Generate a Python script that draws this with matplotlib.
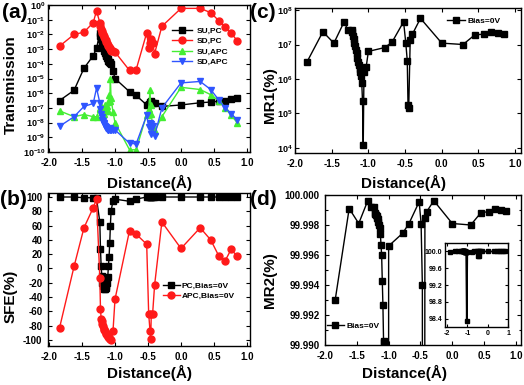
import matplotlib
matplotlib.use('Agg')
import matplotlib.pyplot as plt
import numpy as np
from matplotlib.ticker import MultipleLocator, FormatStrFormatter, NullLocator, LogLocator, LogFormatterMathtext

plt.rcParams['font.family'] = ['Liberation Sans', 'DejaVu Sans']
plt.rcParams['font.weight'] = 'bold'
plt.rcParams['axes.unicode_minus'] = False
plt.rcParams['mathtext.fontset'] = 'custom'
plt.rcParams['mathtext.rm'] = 'Liberation Sans:bold'
plt.rcParams['mathtext.it'] = 'Liberation Sans:bold'
plt.rcParams['mathtext.bf'] = 'Liberation Sans:bold'
plt.rcParams['mathtext.default'] = 'rm'

# distance (Angstrom), shared by all panels
dist = [-1.84, -1.62, -1.47, -1.33, -1.28, -1.23,
        -1.22, -1.21, -1.20, -1.19, -1.18, -1.17, -1.16, -1.15, -1.14, -1.13, -1.12,
        -1.11, -1.10, -1.09, -1.08, -1.07, -1.06,
        -1.03, -1.00, -0.78, -0.68,
        -0.52, -0.49, -0.47, -0.46, -0.45, -0.43, -0.40, -0.29,
        0.00, 0.29, 0.45, 0.57, 0.67, 0.76, 0.85]

# (a) log10 of transmission
log_su_pc = [-6.5, -5.8, -4.3, -3.45, -2.95, -1.9,
             -2.1, -2.3, -2.5, -2.65, -2.8, -2.95, -3.1, -3.25, -3.4, -3.5, -3.6,
             -3.7, -3.8, -3.85, -3.9, -3.95, -4.0,
             -4.5, -5.0, -5.9, -6.15,
             -6.8, -6.75, -6.6, -6.55, -6.6, -6.65, -6.7, -6.9,
             -6.8, -6.65, -6.6, -6.55, -6.5, -6.4, -6.3]
log_sd_pc = [-2.8, -2.0, -1.85, -1.2, -0.4, -1.2,
             -1.45, -1.6, -1.75, -1.9, -2.0, -2.1, -2.2, -2.3, -2.4, -2.5, -2.6,
             -2.7, -2.8, -2.85, -2.9, -3.0, -3.1,
             -3.1, -3.2, -4.45, -4.4,
             -1.9, -2.9, -2.6, -2.45, -2.3, -2.6, -3.3, -1.45,
             -0.23, -0.23, -0.52, -1.06, -1.5, -1.92, -2.42]
log_su_apc = [-7.2, -7.6, -7.45, -7.6, -7.6, -7.1,
              -7.0, -6.9, -7.2, -7.3, -7.1, -7.4, -7.0, -6.8, -7.2, -7.0, -6.9,
              -7.2, -6.6, -6.1, -6.5, -5.0, -6.3,
              -7.3, -8.0, -9.85, -9.85,
              -7.45, -7.1, -5.8, -6.8, -7.4, -8.3, -8.6, -7.6,
              -5.6, -5.75, -6.1, -6.5, -7.0, -7.5, -8.0]
log_sd_apc = [-8.25, -7.6, -6.9, -6.7, -5.65, -6.65,
              -7.1, -7.4, -7.6, -7.8, -7.9, -8.0, -8.1, -8.2, -8.3, -8.4, -8.45,
              -8.5, -8.5, -8.45, -8.5, -8.4, -8.5,
              -8.5, -8.5, -9.4, -9.45,
              -7.5, -8.3, -8.0, -8.1, -8.8, -8.2, -8.9, -7.0,
              -5.3, -5.2, -5.75, -6.45, -7.0, -7.4, -7.8]

# (b) spin filter efficiency (%)
sfe_pc = [100, 100, 99, 99, 98, 65,
          27, 3, -10, -20, -25, -27, -28, -28, -27, -25, -20,
          -12, 3, 16, 35, 60, 80,
          95, 97, 94, 97,
          100, 100, 100, 100, 100, 100, 100, 100,
          100, 100, 100, 100, 100, 100, 100]
sfe_apc = [-83, 3, 57, 85, 97, -13,
           -57, -70, -74, -78, -81, -84, -86, -88, -90, -92, -93,
           -95, -96, -97, -98, -99, -100,
           -87, -43, 53, 48,
           34, -63, -87, -99, -63, -63, -23, 65,
           28, 57, 40, 18, 11, 27, 17]

# (c) log10 of MR1 (%)
log_mr1 = [6.48, 7.37, 7.04, 7.66, 7.42, 7.42,
           7.35, 7.25, 7.15, 7.05, 6.95, 6.85, 6.75, 6.62, 6.5, 6.4, 6.3,
           6.2, 6.1, 5.88, 5.35, 4.08, 6.2,
           6.35, 6.8, 6.91, 7.06,
           7.66, 7.04, 6.53, 5.25, 5.16, 7.13, 7.30, 7.76,
           7.04, 7.0, 7.28, 7.30, 7.35, 7.33, 7.31]

# (d) MR2 (%)
mr2 = [99.9930, 99.9991, 99.9981, 99.9996, 99.9992, 99.9992,
       99.9988, 99.99875, 99.9987, 99.9986, 99.9985, 99.9984, 99.9982, 99.9980, 99.9978, 99.9974, 99.9967,
       99.9960, 99.9943, 99.9927, 99.9903, 99.9902, 99.9901,
       98.35, 99.9966, 99.99745, 99.9981,
       99.99955, 99.9981, 99.9940, 99.88, 99.90, 99.99845, 99.9989, 99.99962,
       99.9981, 99.9980, 99.99882, 99.99889, 99.99907, 99.9990, 99.99896]

W, H = 524, 385
fig = plt.figure(figsize=(W / 100, H / 100), dpi=100)


def px_axes(l, t, r, b):
    return fig.add_axes([l / W, 1 - b / H, (r - l) / W, (b - t) / H])


def style(ax, size=7):
    ax.tick_params(which='both', direction='in', top=True, right=True,
                   labelsize=size, pad=4, width=0.8)
    ax.tick_params(which='major', length=3)
    ax.tick_params(which='minor', length=1.8)
    for s in ax.spines.values():
        s.set_linewidth(1.0)


def leg(ax, x0, y0, hl, tp, ls=0.3):
    ax.legend(loc='upper left', bbox_to_anchor=(x0 / W, 1 - y0 / H), bbox_transform=fig.transFigure,
              frameon=False, fontsize=6, handlelength=hl, handletextpad=tp, labelspacing=ls,
              borderpad=0, borderaxespad=0)


lab = dict(fontsize=11, fontweight='bold')
RED = '#ff1a1a'
GREEN = '#44ee33'
BLUE = '#2f55ff'
x = np.array(dist)

# ---- (a)
ax = px_axes(48, 5, 250, 152)
ax.semilogy(x, 10 ** np.array(log_su_pc), '-s', color='k', ms=4, lw=1, label='SU,PC')
ax.semilogy(x, 10 ** np.array(log_sd_pc), '-o', color=RED, ms=5, lw=1, label='SD,PC')
ax.semilogy(x, 10 ** np.array(log_su_apc), '-^', color=GREEN, ms=5, lw=1, label='SU,APC')
ax.semilogy(x, 10 ** np.array(log_sd_apc), '-v', color=BLUE, ms=5, lw=1, label='SD,APC')
ax.set_xlim(-2.015, 1.045)
ax.set_ylim(1e-10, 1)
ax.yaxis.set_major_locator(LogLocator(base=10, numticks=20))
ax.yaxis.set_major_formatter(LogFormatterMathtext())
ax.yaxis.set_minor_locator(NullLocator())
ax.xaxis.set_major_locator(MultipleLocator(0.5))
ax.xaxis.set_major_formatter(FormatStrFormatter('%.1f'))
style(ax)
ax.tick_params(axis='y', labelsize=6.5, pad=2)
ax.set_ylabel('Transmission', **lab)
ax.yaxis.set_label_coords(-0.149, 0.456)
ax.set_xlabel('Distance(Å)', **lab)
ax.xaxis.set_label_coords(0.5, -0.156)
leg(ax, 172, 27, 2.4, 0.6)
fig.text(2 / W, 1 - 13 / H, '(a)', fontsize=15, fontweight='bold', va='center', ha='left')

# ---- (b)
ax = px_axes(48, 193, 250, 346)
ax.plot(x, sfe_pc, '-s', color='k', ms=4, lw=1, label='PC,Bias=0V')
ax.plot(x, sfe_apc, '-o', color=RED, ms=5, lw=1, label='APC,Bias=0V')
ax.set_xlim(-2.015, 1.045)
ax.set_ylim(-108.4, 105.6)
ax.yaxis.set_major_locator(MultipleLocator(20))
ax.xaxis.set_major_locator(MultipleLocator(0.5))
ax.xaxis.set_major_formatter(FormatStrFormatter('%.1f'))
style(ax)
ax.set_ylabel('SFE(%)', **lab)
ax.yaxis.set_label_coords(-0.149, 0.327)
ax.set_xlabel('Distance(Å)', **lab)
ax.xaxis.set_label_coords(0.5, -0.124)
leg(ax, 163, 282, 2.0, 0.25, 0.25)
fig.text(0 / W, 1 - 200 / H, '(b)', fontsize=15, fontweight='bold', va='center', ha='left')

# ---- (c)
ax = px_axes(295, 8, 521, 153)
ax.semilogy(x, 10 ** np.array(log_mr1), '-s', color='k', ms=4, lw=1, label='Bias=0V')
ax.set_xlim(-2.0, 1.08)
ax.set_ylim(10 ** 3.85, 10 ** 8.06)
ax.yaxis.set_major_locator(LogLocator(base=10, numticks=20))
ax.yaxis.set_major_formatter(LogFormatterMathtext())
ax.yaxis.set_minor_locator(NullLocator())
ax.xaxis.set_major_locator(MultipleLocator(0.5))
ax.xaxis.set_major_formatter(FormatStrFormatter('%.1f'))
style(ax)
ax.tick_params(axis='y', labelsize=6.5, pad=2)
ax.set_ylabel('MR1(%)', **lab)
ax.yaxis.set_label_coords(-0.08, 0.4)
ax.set_xlabel('Distance(Å)', **lab)
ax.xaxis.set_label_coords(0.481, -0.152)
leg(ax, 447, 17.5, 2.2, 0.25)
fig.text(250 / W, 1 - 13 / H, '(c)', fontsize=15, fontweight='bold', va='center', ha='left')

# ---- (d)
ax = px_axes(325, 195, 521, 345)
ax.plot(x, mr2, '-s', color='k', ms=4, lw=1, label='Bias=0V')
ax.set_xlim(-2.0, 1.08)
ax.set_ylim(99.990, 100.000)
ax.yaxis.set_major_locator(MultipleLocator(0.002))
ax.yaxis.set_minor_locator(MultipleLocator(0.001))
ax.yaxis.set_major_formatter(FormatStrFormatter('%.3f'))
ax.xaxis.set_major_locator(MultipleLocator(0.5))
ax.xaxis.set_major_formatter(FormatStrFormatter('%.1f'))
style(ax)
ax.set_ylabel('MR2(%)', **lab)
ax.yaxis.set_label_coords(-0.245, 0.433)
ax.set_xlabel('Distance(Å)', **lab)
ax.xaxis.set_label_coords(0.408, -0.133)
leg(ax, 327, 322, 2.0, 0.35)
fig.text(250 / W, 1 - 200 / H, '(d)', fontsize=15, fontweight='bold', va='center', ha='left')

# inset of (d)
ins = px_axes(445, 243, 508, 327)
ins.plot(x, mr2, '-s', color='k', ms=2.2, lw=1.2)
ins.set_xlim(-2.1, 1.0)
ins.set_ylim(98.2, 100.2)
ins.yaxis.set_major_locator(MultipleLocator(0.4))
ins.yaxis.set_major_formatter(FormatStrFormatter('%.1f'))
ins.xaxis.set_major_locator(MultipleLocator(1))
ins.xaxis.set_major_formatter(FormatStrFormatter('%d'))
style(ins, size=5)
ins.tick_params(pad=2, length=2)

fig.savefig('out.png', dpi=100)
